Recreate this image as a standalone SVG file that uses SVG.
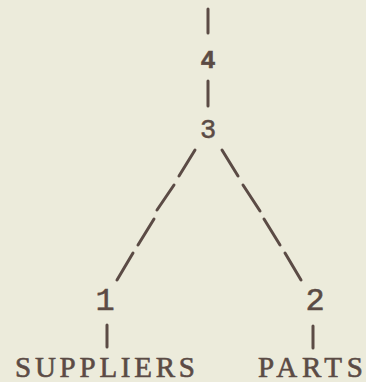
<svg xmlns="http://www.w3.org/2000/svg" width="366" height="382" viewBox="0 0 366 382">
  <style>
    .ink { fill: #5b4b45; }
    .num { font-family: "Liberation Mono", "DejaVu Sans Mono", monospace; text-anchor: middle; stroke: #5b4b45; stroke-width: 0.5; }
    .name { font-family: "Liberation Serif", "DejaVu Serif", serif; font-size: 29px; stroke: #5b4b45; stroke-width: 0.6; }
    .bar { stroke: #5b4b45; stroke-width: 3; stroke-linecap: round; fill: none; }
  </style>
  <rect width="366" height="382" fill="#ecebdb"/>

  <!-- connectors: vertical bars and dashed branches -->
  <g id="connectors">
    <line class="bar" x1="208" y1="9" x2="208" y2="33"/>
    <line class="bar" x1="208" y1="81" x2="208" y2="106"/>
    <!-- left branch, 3 to 1 -->
    <line class="bar" x1="195" y1="150" x2="179" y2="176"/>
    <line class="bar" x1="174" y1="185" x2="157" y2="210"/>
    <line class="bar" x1="154" y1="219" x2="138" y2="245"/>
    <line class="bar" x1="133" y1="253" x2="117" y2="280"/>
    <!-- right branch, 3 to 2 -->
    <line class="bar" x1="222" y1="150" x2="238" y2="176"/>
    <line class="bar" x1="243" y1="185" x2="260" y2="211"/>
    <line class="bar" x1="264" y1="219" x2="280" y2="245"/>
    <line class="bar" x1="285" y1="253" x2="301" y2="280"/>
    <!-- leaves -->
    <line class="bar" x1="107" y1="325" x2="107" y2="347"/>
    <line class="bar" x1="313" y1="326" x2="313" y2="348"/>
  </g>

  <g id="node4"><text class="ink num" x="208" y="68" font-size="25" font-weight="bold">4</text></g>
  <g id="node3"><text class="ink num" x="208" y="138" font-size="27">3</text></g>
  <g id="node1"><text class="ink num" x="105" y="310" font-size="32">1</text></g>
  <g id="node2"><text class="ink num" x="315" y="310" font-size="32">2</text></g>
  <g id="suppliers"><text class="ink name" x="15" y="377" textLength="180" lengthAdjust="spacing">SUPPLIERS</text></g>
  <g id="parts"><text class="ink name" x="258" y="377" textLength="105" lengthAdjust="spacing">PARTS</text></g>
</svg>
